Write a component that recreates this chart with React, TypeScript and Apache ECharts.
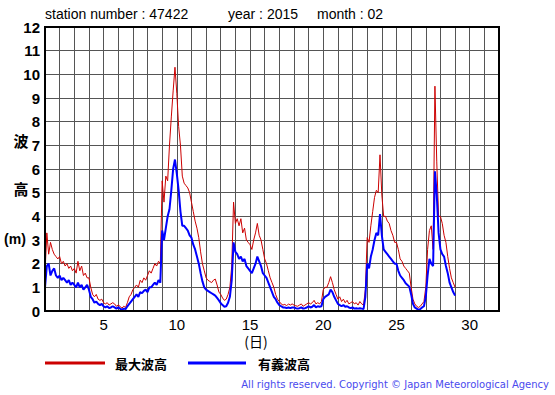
import React, { useEffect, useRef } from "react";
import * as echarts from "echarts";

// Observation schedule: every 3 hours from 1st 00:00
const startDay = 1;
const stepDay = 0.125;

// 最大波高 (m), 8 values per day (00,03,...,21h)
const maxWave: number[] = [
  1.6, 3.3, 2.4, 2.9, 2.6, 2.4, 2.3, 2.2, // 1
  2.3, 2.0, 2.1, 1.9, 2.0, 1.8, 1.9, 1.7, // 2
  1.8, 1.6, 2.1, 1.7, 1.9, 1.5, 1.6, 1.4, // 3
  1.4, 1.0, 0.7, 0.6, 0.7, 0.5, 0.45, 0.5, // 4
  0.35, 0.3, 0.35, 0.25, 0.3, 0.35, 0.3, 0.2, // 5
  0.25, 0.2, 0.12, 0.2, 0.15, 0.35, 0.6, 0.7, // 6
  0.9, 1.0, 1.1, 1.0, 1.3, 1.2, 1.4, 1.3, // 7
  1.5, 1.7, 1.6, 1.8, 2.0, 1.9, 2.1, 2.0, // 8
  5.5, 4.6, 5.7, 5.5, 7.0, 8.2, 9.3, 10.3, // 9
  9.2, 7.8, 7.0, 5.7, 5.4, 5.3, 5.2, 5.0, // 10
  4.6, 4.2, 3.8, 3.5, 3.1, 2.5, 2.0, 1.7, // 11
  1.4, 1.3, 1.25, 1.2, 1.3, 1.35, 1.1, 0.8, // 12
  0.7, 0.55, 0.45, 0.5, 0.7, 1.0, 1.9, 4.6, // 13
  3.7, 3.9, 3.6, 3.9, 3.3, 3.5, 3.0, 2.9, // 14
  2.8, 2.6, 3.0, 3.3, 3.7, 3.2, 3.0, 2.6, // 15
  2.2, 2.0, 1.7, 1.4, 1.2, 1.0, 0.7, 0.5, // 16
  0.4, 0.3, 0.25, 0.28, 0.22, 0.3, 0.25, 0.3, // 17
  0.25, 0.22, 0.2, 0.25, 0.3, 0.2, 0.25, 0.3, // 18
  0.35, 0.3, 0.35, 0.45, 0.3, 0.35, 0.3, 0.4, // 19
  0.9, 1.0, 1.0, 1.2, 1.45, 1.2, 0.9, 0.7, // 20
  0.5, 0.6, 0.4, 0.5, 0.35, 0.45, 0.3, 0.35, // 21
  0.4, 0.3, 0.35, 0.25, 0.4, 0.3, 0.25, 0.9, // 22
  3.1, 2.9, 3.6, 4.2, 4.8, 5.1, 5.0, 6.6, // 23
  4.9, 4.0, 4.0, 3.8, 3.7, 3.4, 3.2, 2.9, // 24
  2.9, 2.6, 2.2, 2.1, 1.9, 1.8, 1.7, 1.6, // 25
  1.0, 0.5, 0.3, 0.2, 0.15, 0.2, 0.3, 0.4, // 26
  1.0, 2.6, 3.4, 3.6, 2.6, 9.5, 6.3, 4.0, // 27
  4.0, 3.7, 3.2, 2.9, 2.3, 1.8, 1.4, 1.2, // 28
  1.0,
];

// 有義波高 (m)
const sigWave: number[] = [
  1.0, 1.9, 2.0, 1.5, 1.7, 1.8, 1.5, 1.4, // 1
  1.5, 1.3, 1.4, 1.3, 1.2, 1.3, 1.1, 1.2, // 2
  1.1, 1.0, 1.2, 1.0, 1.1, 0.9, 1.0, 1.1, // 3
  0.9, 0.6, 0.5, 0.35, 0.4, 0.3, 0.25, 0.3, // 4
  0.2, 0.15, 0.2, 0.12, 0.15, 0.2, 0.15, 0.1, // 5
  0.15, 0.1, 0.05, 0.1, 0.08, 0.2, 0.3, 0.4, // 6
  0.5, 0.6, 0.7, 0.6, 0.8, 0.75, 0.85, 0.9, // 7
  0.8, 1.0, 1.0, 1.1, 1.2, 1.1, 1.3, 1.2, // 8
  3.4, 3.0, 3.5, 4.0, 4.3, 5.1, 6.0, 6.4, // 9
  5.8, 5.1, 4.2, 3.6, 3.6, 3.5, 3.4, 3.2, // 10
  3.1, 2.8, 2.6, 2.3, 2.0, 1.6, 1.25, 1.0, // 11
  0.9, 0.85, 0.8, 0.75, 0.7, 0.65, 0.55, 0.45, // 12
  0.33, 0.25, 0.18, 0.2, 0.35, 0.6, 1.3, 2.9, // 13
  2.5, 2.4, 2.2, 2.3, 2.1, 2.2, 1.9, 1.8, // 14
  1.7, 1.6, 1.8, 2.0, 2.3, 2.1, 1.9, 1.6, // 15
  1.5, 1.4, 1.2, 1.0, 0.8, 0.6, 0.5, 0.35, // 16
  0.25, 0.2, 0.15, 0.15, 0.12, 0.15, 0.12, 0.15, // 17
  0.15, 0.12, 0.1, 0.12, 0.15, 0.1, 0.12, 0.15, // 18
  0.2, 0.15, 0.18, 0.25, 0.15, 0.2, 0.18, 0.2, // 19
  0.5, 0.6, 0.65, 0.7, 0.9, 0.8, 0.6, 0.45, // 20
  0.3, 0.25, 0.2, 0.25, 0.18, 0.2, 0.15, 0.12, // 21
  0.15, 0.1, 0.12, 0.1, 0.12, 0.1, 0.08, 0.6, // 22
  2.0, 1.8, 2.3, 2.6, 3.0, 3.3, 3.2, 4.1, // 23
  3.2, 2.6, 2.5, 2.4, 2.3, 2.2, 2.1, 2.0, // 24
  2.0, 1.7, 1.5, 1.4, 1.3, 1.17, 1.1, 1.03, // 25
  0.7, 0.3, 0.15, 0.1, 0.05, 0.08, 0.15, 0.2, // 26
  0.6, 1.5, 2.2, 2.0, 1.9, 5.9, 4.9, 3.3, // 27
  2.6, 2.4, 2.3, 1.9, 1.6, 1.2, 1.0, 0.8, // 28
  0.65,
];

const xTickLabels = [5, 10, 15, 20, 25, 30];
const titleParts = ["station number : 47422", "year : 2015", "month : 02"];
const legendNames = ["最大波高", "有義波高"];
const yNameParts = ["波", "高", "(m)"];
const copyright = "All rights reserved. Copyright © Japan Meteorological Agency";

const FONT = "'Liberation Sans', Arial, Helvetica, sans-serif";
const CJK = "'Noto Sans CJK JP', sans-serif";
const RED = "#cc0000";
const BLUE = "#0000ff";

export default function App() {
  const ref = useRef<HTMLDivElement>(null);
  useEffect(() => {
    if (!ref.current) return;
    const chart = echarts.init(ref.current, undefined, { renderer: "svg" });
    const toPairs = (arr: number[]) => arr.map((v, i) => [startDay + i * stepDay, v]);
    chart.setOption({
      animation: false,
      backgroundColor: "#ffffff",
      grid: {
        left: 45,
        right: 56,
        top: 27,
        bottom: 84,
        show: true,
        borderColor: "#000",
        borderWidth: 2,
        backgroundColor: "transparent",
        z: 10,
      },
      xAxis: {
        type: "value",
        min: 1,
        max: 32,
        interval: 1,
        axisLine: { show: false },
        axisTick: { show: false },
        splitLine: { show: true, lineStyle: { color: "#555", width: 1 } },
        axisLabel: {
          color: "#000",
          fontSize: 15,
          fontFamily: FONT,
          margin: 6,
          formatter: (v: number) => (xTickLabels.indexOf(v) >= 0 ? String(v) : ""),
        },
      },
      yAxis: {
        type: "value",
        min: 0,
        max: 12,
        interval: 1,
        axisLine: { show: false },
        axisTick: { show: false },
        splitLine: { show: true, lineStyle: { color: "#555", width: 1 } },
        axisLabel: {
          color: "#000",
          fontSize: 15,
          fontWeight: "bold",
          fontFamily: FONT,
          margin: 5,
        },
      },
      series: [
        {
          name: legendNames[0],
          type: "line",
          data: toPairs(maxWave),
          showSymbol: false,
          lineStyle: { color: RED, width: 1 },
          itemStyle: { color: RED },
          z: 3,
        },
        {
          name: legendNames[1],
          type: "line",
          data: toPairs(sigWave),
          showSymbol: false,
          lineStyle: { color: BLUE, width: 2 },
          itemStyle: { color: BLUE },
          z: 4,
        },
      ],
      graphic: [
        { type: "text", left: 45, top: 7, style: { text: titleParts[0], font: `14px ${FONT}`, fill: "#000" } },
        { type: "text", left: 228, top: 7, style: { text: titleParts[1], font: `14px ${FONT}`, fill: "#000" } },
        { type: "text", left: 317, top: 7, style: { text: titleParts[2], font: `14px ${FONT}`, fill: "#000" } },
        { type: "text", x: 21, y: 140, style: { text: yNameParts[0], font: `bold 15px ${CJK}`, fill: "#000", align: "center", verticalAlign: "middle" } },
        { type: "text", x: 21, y: 188, style: { text: yNameParts[1], font: `bold 15px ${CJK}`, fill: "#000", align: "center", verticalAlign: "middle" } },
        { type: "text", x: 15, y: 239, style: { text: yNameParts[2], font: `bold 14px ${FONT}`, fill: "#000", align: "center", verticalAlign: "middle" } },
        { type: "text", x: 256, y: 341, style: { text: "(日)", font: `14px ${CJK}`, fill: "#000", align: "center", verticalAlign: "middle" } },
        { type: "line", shape: { x1: 45, y1: 363, x2: 105, y2: 363 }, style: { stroke: RED, lineWidth: 3 } },
        { type: "text", x: 115, y: 363, style: { text: legendNames[0], font: `bold 13px ${CJK}`, fill: "#000", verticalAlign: "middle" } },
        { type: "line", shape: { x1: 188, y1: 363, x2: 246, y2: 363 }, style: { stroke: BLUE, lineWidth: 3 } },
        { type: "text", x: 258, y: 363, style: { text: legendNames[1], font: `bold 13px ${CJK}`, fill: "#000", verticalAlign: "middle" } },
        { type: "text", x: 549, y: 384, style: { text: copyright, font: `10px 'DejaVu Sans', sans-serif`, fill: "#4a4aee", align: "right", verticalAlign: "middle" } },
      ],
    });
    return () => chart.dispose();
  }, []);
  return <div ref={ref} style={{ width: 555, height: 395, position: "absolute", left: 0, top: 0 }} />;
}
